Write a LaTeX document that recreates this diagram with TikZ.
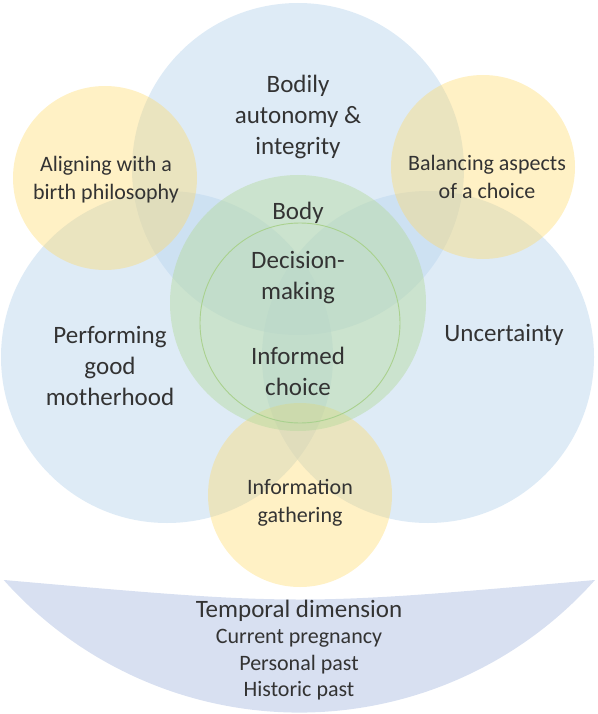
\documentclass[tikz,border=0pt]{standalone}
\usepackage{fontspec}
\setmainfont{Carlito}
\definecolor{cblue}{HTML}{BDD7EE}
\definecolor{cyellow}{HTML}{FFD966}
\definecolor{cgreen}{HTML}{B5D99C}
\definecolor{cline}{HTML}{A9D18E}
\definecolor{ctemp}{HTML}{D8E0F1}
\definecolor{ctext}{HTML}{333333}
\begin{document}
\begin{tikzpicture}[x=1pt,y=-1pt,
  bluecirc/.style={fill=cblue,fill opacity=0.5},
  yellowcirc/.style={fill=cyellow,fill opacity=0.38},
  greencirc/.style={fill=cgreen,fill opacity=0.45},
  bigtext/.style={text=ctext,align=center,font=\fontsize{25}{31}\selectfont,inner sep=0pt},
  smalltext/.style={text=ctext,align=center,font=\fontsize{22}{28}\selectfont,inner sep=0pt}]
\useasboundingbox (0,0) rectangle (597,714);
% blue circles
\fill[bluecirc] (298,169) circle (166);
\fill[bluecirc] (167,357) circle (166);
\fill[bluecirc] (428,357) circle (166);
% yellow circles
\fill[yellowcirc] (105,178) circle (92);
\fill[yellowcirc] (483,167) circle (92);
\fill[yellowcirc] (300,495) circle (92);
% green circle
\fill[greencirc] (298,303) circle (128);
\draw[cline,line width=0.9pt] (300,323) circle (100);
% temporal dimension band
\fill[ctemp] (4,580) .. controls (299.5,606) .. (595,580)
  arc[start angle=41.7,end angle=138.3,radius=396] -- cycle;
% labels
\node[bigtext] (bodily) at (298,117) {Bodily\\autonomy \&\\integrity};
\node[smalltext] (align) at (106,180) {Aligning with a\\birth philosophy};
\node[smalltext] (balance) at (487,177) {Balancing aspects\\of a choice};
\node[bigtext] (body) at (298,213) {Body};
\node[bigtext] (decision) at (298,278) {Decision-\\making};
\node[bigtext] (informed) at (298,371) {Informed\\choice};
\node[bigtext] (perform) at (110,366) {Performing\\good\\motherhood};
\node[bigtext] (uncert) at (504,335) {Uncertainty};
\node[smalltext] (info) at (300,503) {Information\\gathering};
\node[bigtext] (temporal) at (299,611) {Temporal dimension};
\node[smalltext] (current) at (299,638) {Current pregnancy};
\node[smalltext] (personal) at (299,665) {Personal past};
\node[smalltext] (historic) at (299,691) {Historic past};
\end{tikzpicture}
\end{document}
